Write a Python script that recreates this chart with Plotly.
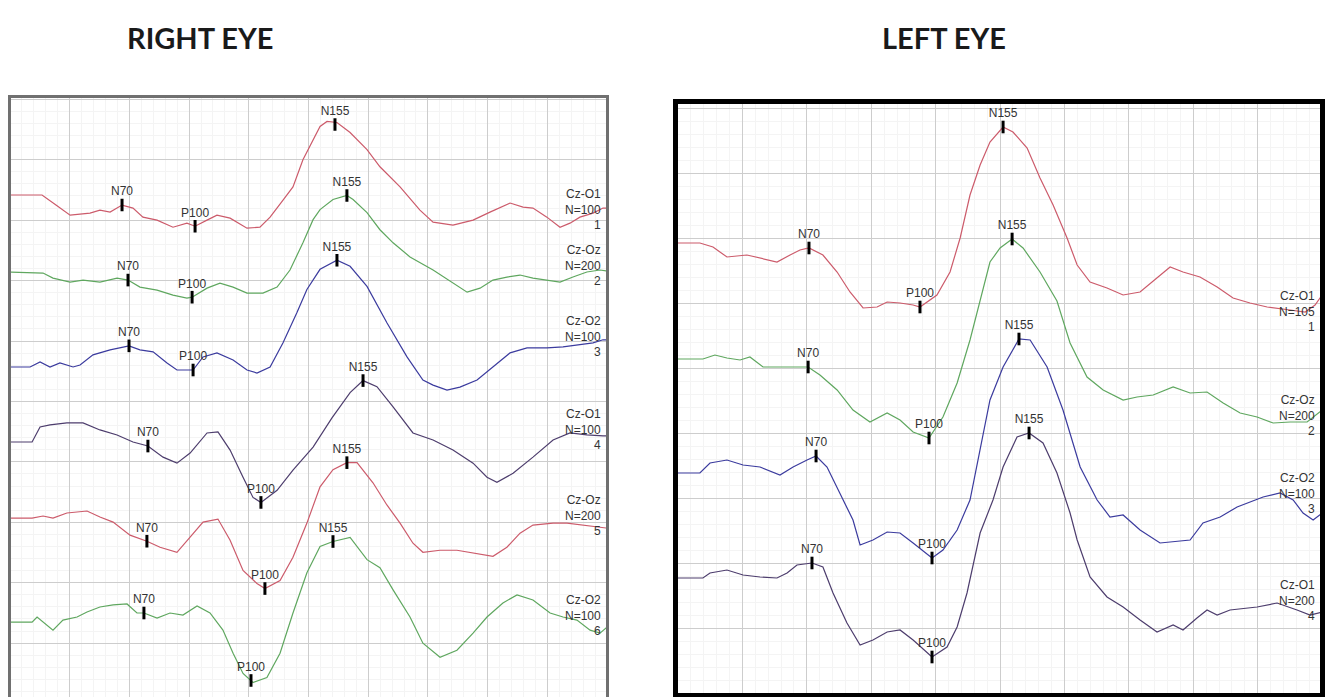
import plotly.graph_objects as go

# ---------------- DATA ----------------
# Time in ms, amplitude in uV relative to each channel's baseline.
# RIGHT EYE panel (6 channels)
re1_t = [0, 16.1, 23.1, 30.2, 40.2, 45.2, 50.3, 56.3, 61.8, 66.8, 73.9, 81.9, 88.9, 93.0, 99.0, 104.0, 110.6, 119.1, 125.6, 130.7, 137.2, 142.2, 147.2, 152.3, 155.8, 159.3, 164.3, 170.9, 179.4, 185.9, 196.0, 206.0, 212.6, 222.6, 232.7, 241.2, 251.3, 257.8, 262.8, 269.8, 276.4, 281.4, 286.4, 293.0, 298.0, 300]
re1_v = [0, 0, -1.0, -2.0, -1.8, -1.5, -1.7, -1.0, -1.3, -2.2, -2.5, -3.2, -2.8, -3.1, -2.5, -2.0, -2.3, -3.3, -3.2, -2.2, -0.5, 0.8, 3.5, 5.5, 6.8, 7.3, 7.2, 6.2, 4.5, 2.8, 0.8, -1.5, -2.7, -3.0, -2.5, -1.7, -0.8, -1.2, -1.3, -2.2, -3.2, -2.8, -2.2, -1.8, -1.3, -1.3]

re2_t = [0, 16.6, 21.6, 30.2, 36.7, 45.2, 53.8, 59.3, 65.3, 73.9, 81.9, 88.9, 91.5, 99.0, 105.5, 112.1, 119.1, 127.1, 134.2, 140.7, 147.2, 152.3, 155.8, 162.3, 169.3, 172.4, 179.4, 185.9, 192.5, 201.0, 212.6, 222.6, 229.7, 236.2, 242.7, 249.7, 256.3, 262.8, 269.8, 276.4, 282.9, 289.9, 296.5, 300]
re2_v = [0, -0.1, -0.6, -1.0, -0.8, -1.0, -0.6, -0.8, -1.5, -1.8, -2.3, -2.6, -2.5, -1.6, -1.1, -1.5, -2.1, -2.1, -1.5, 0.2, 2.9, 5.2, 6.2, 7.2, 7.6, 7.2, 5.9, 4.2, 2.9, 1.5, 0.2, -1.1, -2.0, -1.6, -0.8, -0.5, -0.3, -0.6, -0.8, -1.0, -0.5, 0.0, 0.2, 0.1]

re3_t = [0, 10.1, 15.1, 20.1, 25.1, 31.7, 35.2, 41.7, 50.3, 59.8, 65.3, 71.9, 78.9, 83.9, 92.0, 97.0, 104.0, 112.1, 119.1, 124.1, 130.7, 137.2, 144.2, 149.2, 155.8, 164.3, 170.9, 179.4, 189.4, 199.5, 207.5, 212.6, 219.6, 226.1, 234.7, 242.7, 251.3, 259.8, 269.8, 277.9, 284.9, 293.0, 298.0, 300]
re3_v = [0, 0, 0.5, 0, 0.4, 0, 0.2, 1.2, 1.7, 2.1, 1.7, 1.5, 0.4, -0.3, -0.3, 1.0, 1.4, 0.7, -0.3, -0.6, 0, 2.4, 5.4, 7.7, 9.7, 10.6, 10.0, 8.0, 4.4, 1.0, -1.3, -1.8, -2.3, -2.0, -1.3, 0, 1.4, 1.9, 1.9, 2.0, 2.2, 2.4, 2.7, 2.7]

re4_t = [0, 11.1, 15.1, 20.1, 28.6, 36.7, 45.2, 53.8, 61.8, 69.3, 76.9, 83.9, 90.5, 99.0, 104.5, 110.6, 117.1, 122.1, 126.1, 134.2, 142.2, 152.3, 161.8, 170.9, 177.4, 184.4, 192.5, 202.5, 212.6, 222.6, 232.7, 239.7, 244.7, 252.8, 262.8, 272.9, 281.4, 289.9, 298.0, 300]
re4_v = [0, 0, 1.5, 1.7, 1.9, 1.9, 1.2, 0.7, 0, -0.4, -1.5, -2.1, -1.1, 0.9, 1.0, -0.8, -3.5, -5.5, -6.0, -4.8, -2.8, -0.5, 2.4, 4.9, 6.1, 5.5, 3.5, 0.9, 0.2, -0.8, -2.1, -3.5, -4.0, -3.1, -1.5, 0.2, 0.9, 0.7, 0.6, 0.6]

re5_t = [0, 11.1, 16.6, 21.6, 28.6, 38.7, 45.2, 51.8, 60.3, 68.8, 75.4, 83.9, 90.5, 97.0, 104.5, 110.6, 117.1, 124.1, 128.1, 135.7, 142.2, 149.2, 155.8, 162.3, 169.3, 174.4, 182.4, 189.4, 196.0, 202.5, 207.5, 216.1, 224.6, 232.7, 242.7, 249.7, 256.3, 262.8, 272.9, 279.9, 287.9, 296.5, 300]
re5_v = [0, 0, 0.2, 0, 0.5, 0.7, 0.1, -0.4, -1.7, -2.3, -2.9, -3.4, -1.9, -0.4, -0.1, -2.2, -5.2, -6.5, -7.0, -6.2, -3.9, -0.5, 3.1, 4.8, 5.5, 5.5, 3.5, 1.3, -0.5, -2.5, -3.4, -3.2, -3.2, -3.5, -3.8, -2.9, -1.5, -0.7, -0.5, -0.5, -0.7, -0.9, -1.0]

re6_t = [0, 11.1, 13.6, 16.6, 21.6, 26.6, 33.7, 38.7, 45.2, 51.8, 58.8, 63.8, 67.3, 73.9, 80.4, 86.9, 94.0, 100.5, 107.0, 112.1, 117.1, 122.1, 129.1, 135.7, 142.2, 149.2, 155.8, 162.3, 170.9, 179.4, 185.9, 192.5, 201.0, 207.5, 216.1, 224.6, 232.7, 239.7, 247.7, 254.8, 262.8, 271.4, 277.9, 284.9, 291.5, 296.5, 300]
re6_v = [0, 0, 0.5, 0, -0.8, 0.2, 0.5, 1.0, 1.5, 1.7, 1.8, 0.9, 0.9, 0.4, 0.9, 0.7, 1.6, 0.9, -0.8, -3.1, -5.1, -6.0, -5.5, -3.1, 0.9, 4.9, 7.5, 8.0, 8.4, 6.2, 5.4, 3.2, 0.5, -2.1, -3.5, -2.8, -1.1, 0.5, 1.9, 2.7, 2.2, 0.9, 0.5, 0.2, -0.8, -1.1, -0.5]

# LEFT EYE panel (4 channels)
le1_t = [0, 10.2, 16.3, 22.8, 32.1, 38.2, 46.1, 52.2, 56.8, 61.0, 67.5, 74.1, 80.1, 86.2, 92.7, 97.4, 103.4, 109.5, 112.7, 120.6, 126.7, 131.4, 136.0, 140.7, 145.3, 151.4, 156.0, 162.6, 168.6, 174.7, 181.2, 185.9, 191.9, 199.8, 207.3, 215.2, 223.1, 229.2, 235.2, 243.1, 251.1, 258.5, 266.4, 274.4, 285.1, 292.1, 296.7, 300]
le1_v = [0, 0, -0.4, -1.4, -1.2, -1.5, -1.9, -1.2, -0.7, -0.5, -1.2, -2.9, -4.9, -6.5, -6.4, -5.9, -6.0, -6.2, -6.4, -5.2, -2.9, 0.5, 4.8, 7.8, 10.1, 11.6, 11.1, 9.5, 6.5, 3.8, 0.5, -2.2, -3.9, -4.5, -5.2, -4.9, -3.5, -2.4, -2.9, -3.4, -4.4, -5.5, -6.0, -6.4, -6.7, -6.9, -6.2, -5.2]

le2_t = [0, 11.6, 17.2, 22.8, 28.9, 33.5, 39.6, 46.1, 53.6, 60.6, 66.1, 74.1, 81.5, 89.4, 97.4, 103.4, 109.5, 116.9, 123.4, 130.0, 136.0, 140.7, 145.3, 150.0, 155.6, 160.7, 168.6, 176.5, 182.6, 190.5, 198.0, 207.3, 213.8, 221.3, 230.6, 238.5, 246.4, 253.9, 261.8, 269.7, 277.2, 285.1, 293.0, 300]
le2_v = [0, 0, 0.4, 0.1, -0.1, 0.2, -0.8, -0.8, -0.8, -0.8, -1.6, -3.1, -5.1, -6.3, -5.4, -6.1, -7.3, -7.9, -5.8, -2.4, 1.9, 5.9, 9.7, 11.1, 12.0, 11.1, 8.7, 5.8, 1.6, -1.8, -3.1, -4.1, -3.8, -3.6, -2.8, -3.4, -3.3, -4.4, -5.4, -5.8, -6.4, -6.3, -6.3, -5.1]

le3_t = [0, 10.2, 14.9, 22.8, 30.3, 38.2, 47.5, 53.6, 60.1, 64.3, 69.4, 75.5, 81.5, 84.8, 90.8, 97.4, 103.4, 109.5, 118.3, 123.4, 130.0, 136.0, 145.3, 151.4, 158.8, 164.0, 171.9, 179.3, 187.3, 195.2, 201.2, 207.3, 215.2, 224.5, 229.2, 238.5, 244.5, 252.5, 260.4, 266.4, 272.5, 280.4, 286.5, 291.1, 295.8, 300]
le3_v = [0, 0, 1.0, 1.3, 0.8, 0.6, -0.2, 0.6, 1.3, 1.7, 0.6, -2.0, -4.7, -7.2, -6.7, -5.9, -6.0, -7.0, -8.5, -7.7, -5.7, -2.7, 7.3, 10.6, 13.4, 13.3, 10.6, 6.3, 0.6, -2.7, -4.4, -4.2, -5.7, -7.0, -6.9, -6.7, -5.0, -4.4, -3.4, -2.9, -2.4, -2.0, -2.7, -4.0, -4.7, -4.0]

le4_t = [0, 11.6, 14.9, 22.8, 30.3, 38.2, 46.1, 50.8, 55.4, 62.4, 67.5, 72.2, 78.7, 84.8, 90.8, 97.4, 103.4, 109.5, 118.3, 125.3, 130.0, 134.6, 140.7, 146.7, 151.4, 157.9, 163.5, 170.0, 176.5, 182.6, 185.9, 191.9, 199.8, 207.3, 215.2, 223.1, 230.6, 235.2, 241.7, 246.4, 251.1, 257.1, 269.7, 279.0, 288.3, 294.4, 300]
le4_v = [0, 0, 0.5, 0.8, 0.3, 0.1, 0, 0.5, 1.3, 1.5, 1.1, -1.5, -4.5, -6.7, -6.2, -5.4, -5.2, -6.2, -7.9, -6.9, -4.9, -1.5, 4.5, 7.8, 11.1, 14.1, 14.5, 13.5, 10.5, 6.5, 3.8, 0.1, -1.9, -2.9, -4.2, -5.4, -4.7, -5.2, -4.0, -3.2, -3.7, -3.2, -2.9, -2.5, -3.2, -3.7, -3.4]

# Peak names, latencies (ms) and amplitudes (uV)
peak_names = ["N70", "P100", "N155"]
re_peak_t = [[56.3, 93.0, 163.3], [59.3, 91.5, 169.3], [59.8, 92.0, 164.3],
             [69.3, 126.1, 177.4], [68.8, 128.1, 169.3], [67.3, 121.1, 162.3]]
re_peak_v = [[-1.0, -3.1, 7.0], [-0.8, -2.5, 7.6], [2.1, -0.3, 10.6],
             [-0.4, -6.0, 6.1], [-2.3, -7.0, 5.5], [0.9, -5.8, 8.0]]
le_peak_t = [[61.0, 112.7, 151.4], [60.6, 116.9, 155.6], [64.3, 118.3, 158.8], [62.4, 118.3, 163.5]]
le_peak_v = [[-0.5, -6.4, 11.6], [-0.8, -7.9, 12.0], [1.7, -8.5, 13.4], [1.5, -7.9, 14.5]]

# Channel labels
re_derivation = ["Cz-O1", "Cz-Oz", "Cz-O2", "Cz-O1", "Cz-Oz", "Cz-O2"]
re_sweeps = ["N=100", "N=200", "N=100", "N=100", "N=200", "N=100"]
le_derivation = ["Cz-O1", "Cz-Oz", "Cz-O2", "Cz-O1"]
le_sweeps = ["N=105", "N=200", "N=100", "N=200"]

# ---------------- LAYOUT CONSTANTS ----------------
W, H = 1329, 697
re_baseline = [50.5, 42.85, 33.42, 25.97, 18.42, 8.09]   # channel offsets (display)
le_baseline = [45.0, 33.4, 22.0, 11.5]
re_label_yshift = [-1, 6, 3, 6, 13, 12]
le_label_yshift = [-16, -5, 20, 12]

RED, GREEN, BLUE, PURPLE = "#cc5b6b", "#5fa75f", "#3b3b9e", "#4d3d6d"
re_colors = [RED, GREEN, BLUE, PURPLE, RED, GREEN]
le_colors = [RED, GREEN, BLUE, PURPLE]

FONT = "Liberation Sans, Arial, sans-serif"
MINOR_GRID = "#f4f4f4"


def px_x(p):
    return p / W


def px_y(p):
    return 1 - p / H


fig = go.Figure()

re_series = [(re1_t, re1_v), (re2_t, re2_v), (re3_t, re3_v),
             (re4_t, re4_v), (re5_t, re5_v), (re6_t, re6_v)]
le_series = [(le1_t, le1_v), (le2_t, le2_v), (le3_t, le3_v), (le4_t, le4_v)]


def add_panel(series, baselines, colors, peak_t, peak_v, deriv, sweeps, shifts, xa, ya):
    for i, (t, v) in enumerate(series):
        b = baselines[i]
        fig.add_trace(go.Scatter(
            x=t, y=[b + a for a in v], mode="lines",
            line=dict(color=colors[i], width=1.2),
            xaxis=xa, yaxis=ya, showlegend=False, hoverinfo="skip"))
        fig.add_trace(go.Scatter(
            x=peak_t[i], y=[b + a for a in peak_v[i]], mode="markers+text",
            text=peak_names, textposition="top center",
            textfont=dict(family=FONT, size=12, color="#333333"),
            marker=dict(symbol="line-ns", size=9, line=dict(width=3, color="black")),
            xaxis=xa, yaxis=ya, showlegend=False, hoverinfo="skip", cliponaxis=True))
        fig.add_annotation(
            x=1, y=b + v[-1], xref=f"{xa} domain", yref=ya,
            text=f"{deriv[i]}<br>{sweeps[i]}<br>{i + 1}",
            showarrow=False, xanchor="right", yanchor="middle", align="right",
            xshift=-3, yshift=shifts[i],
            font=dict(family=FONT, size=12, color="#333333"))


add_panel(re_series, re_baseline, re_colors, re_peak_t, re_peak_v,
          re_derivation, re_sweeps, re_label_yshift, "x", "y")
add_panel(le_series, le_baseline, le_colors, le_peak_t, le_peak_v,
          le_derivation, le_sweeps, le_label_yshift, "x2", "y2")

common_axis = dict(showticklabels=False, ticks="", zeroline=False, showgrid=True,
                   gridcolor="#cdcdcd", gridwidth=1, mirror=True, showline=True)

fig.update_layout(
    width=W, height=H, margin=dict(l=0, r=0, t=0, b=0),
    paper_bgcolor="white", plot_bgcolor="white", showlegend=False,
    hovermode=False,
    xaxis=dict(domain=[px_x(11), px_x(606)], range=[0.5, 299.5], dtick=30, tick0=0,
               linecolor="#707070", linewidth=3,
               minor=dict(dtick=6, showgrid=True, gridcolor=MINOR_GRID), **common_axis),
    yaxis=dict(domain=[0, px_y(97.5)], range=[0.65, 60.18], dtick=6, tick0=0,
               linecolor="#707070", linewidth=3,
               minor=dict(dtick=1.2, showgrid=True, gridcolor=MINOR_GRID), **common_axis),
    xaxis2=dict(domain=[px_x(678), px_x(1320)], range=[0, 299], dtick=30, tick0=0,
                anchor="y2", linecolor="black", linewidth=5,
                minor=dict(dtick=6, showgrid=True, gridcolor=MINOR_GRID), **common_axis),
    yaxis2=dict(domain=[px_y(693), px_y(104)], range=[0, 58.9], dtick=6.5, tick0=0,
                anchor="x2", linecolor="black", linewidth=5,
                minor=dict(dtick=1.3, showgrid=True, gridcolor=MINOR_GRID), **common_axis),
)

for title, cx in (("RIGHT EYE", 200), ("LEFT EYE", 944)):
    fig.add_annotation(text=f"<b>{title}</b>", x=px_x(cx), y=px_y(37), xref="paper", yref="paper",
                       xanchor="center", yanchor="middle", showarrow=False,
                       font=dict(family="Lato, sans-serif", size=29, color="#1a1a1a"))

fig.write_html("out.html")
